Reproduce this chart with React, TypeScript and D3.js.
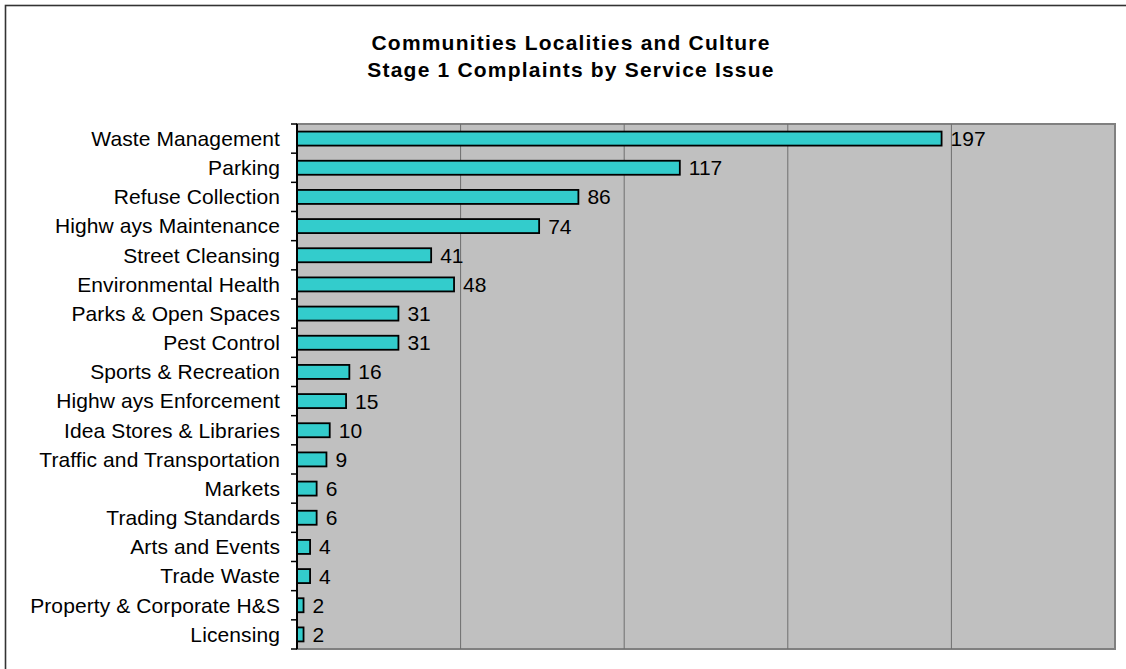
import React from "react";
import * as d3 from "d3";

const categories = [
  "Waste Management",
  "Parking",
  "Refuse Collection",
  "Highw ays Maintenance",
  "Street Cleansing",
  "Environmental Health",
  "Parks & Open Spaces",
  "Pest Control",
  "Sports & Recreation",
  "Highw ays Enforcement",
  "Idea Stores & Libraries",
  "Traffic and Transportation",
  "Markets",
  "Trading Standards",
  "Arts and Events",
  "Trade Waste",
  "Property & Corporate H&S",
  "Licensing",
];
const values = [197, 117, 86, 74, 41, 48, 31, 31, 16, 15, 10, 9, 6, 6, 4, 4, 2, 2];
const gridTicks = [50, 100, 150, 200];
const titleLines = ["Communities Localities and Culture", "Stage 1 Complaints by Service Issue"];

export default function App() {
  const W = 1126, H = 669;
  const left = 297, right = 1115, top = 124, bottom = 649;
  const x = d3.scaleLinear().domain([0, 250]).range([left, right]);
  const y = d3.scaleBand<string>().domain(categories).range([top, bottom]).paddingInner(0.52).paddingOuter(0.26);
  const band = (bottom - top) / categories.length;
  const font = "Arial, 'Liberation Sans', sans-serif";
  return (
    <svg width={W} height={H} style={{ position: "absolute", left: 0, top: 0 }}>
      <rect x={0} y={0} width={W} height={H} fill="#fff" />
      <rect x={5.5} y={5.5} width={W + 20} height={H + 20} fill="none" stroke="#333" strokeWidth={1.6} />
      {titleLines.map((t, i) => (
        <text key={i} x={571} y={50 + i * 27} textAnchor="middle" fontFamily={font} fontWeight="bold" fontSize={21} letterSpacing={1.2} fill="#000">
          {t}
        </text>
      ))}
      <rect x={left} y={top} width={right - left} height={bottom - top} fill="#C0C0C0" stroke="#808080" strokeWidth={2} />
      {gridTicks.map((t) => (
        <line key={t} x1={x(t)} x2={x(t)} y1={top} y2={bottom} stroke="#6e6e6e" strokeWidth={1} />
      ))}
      {categories.map((c, i) => (
        <g key={c}>
          <rect x={x(0)} y={y(c)!} width={x(values[i]) - x(0)} height={y.bandwidth()} fill="#33CCCC" stroke="#000" strokeWidth={1.8} />
          <text x={x(values[i]) + 9} y={y(c)! + y.bandwidth() / 2} dy="0.36em" fontFamily={font} fontSize={21} fill="#000">
            {values[i]}
          </text>
          <text x={280} y={y(c)! + y.bandwidth() / 2} dy="0.35em" textAnchor="end" fontFamily={font} fontSize={21} letterSpacing={0.1} fill="#000">
            {c}
          </text>
        </g>
      ))}
      {d3.range(categories.length + 1).map((i) => (
        <line key={i} x1={291} x2={left} y1={top + i * band} y2={top + i * band} stroke="#000" strokeWidth={1.5} />
      ))}
      <line x1={left} x2={left} y1={top} y2={bottom} stroke="#000" strokeWidth={2} />
    </svg>
  );
}
